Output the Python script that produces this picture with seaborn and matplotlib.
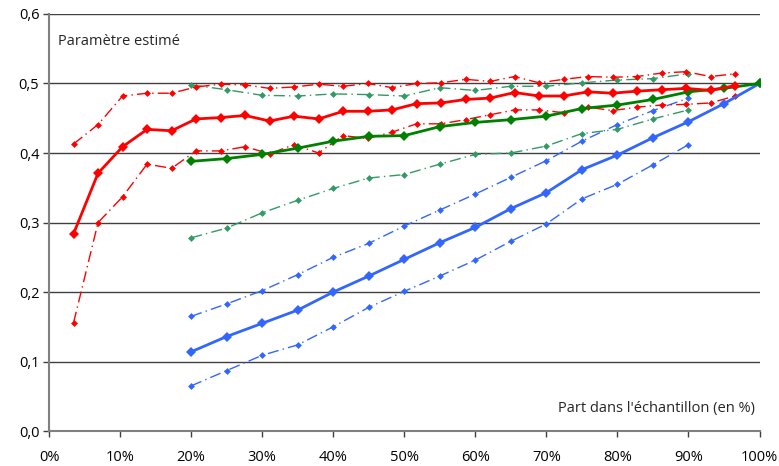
import numpy as np
import pandas as pd
import seaborn as sns
import matplotlib.pyplot as plt
from matplotlib.ticker import FuncFormatter

# Abscisses (part dans l'échantillon, en %)
x_rouge = [100 * k / 29 for k in range(1, 29)]
x_vert = list(range(20, 101, 5))
x_vert_ic = list(range(20, 91, 5))

# Série rouge
rouge = [0.284, 0.371, 0.409, 0.434, 0.432, 0.449, 0.451, 0.454, 0.446, 0.453,
         0.449, 0.460, 0.460, 0.462, 0.471, 0.472, 0.477, 0.479, 0.487, 0.482,
         0.482, 0.488, 0.486, 0.489, 0.491, 0.493, 0.490, 0.497]
rouge_haut = [0.413, 0.441, 0.482, 0.486, 0.486, 0.495, 0.499, 0.498, 0.493, 0.495,
              0.499, 0.496, 0.500, 0.494, 0.500, 0.501, 0.506, 0.503, 0.510, 0.501,
              0.506, 0.510, 0.509, 0.510, 0.515, 0.517, 0.510, 0.514]
rouge_bas = [0.156, 0.300, 0.337, 0.384, 0.378, 0.403, 0.403, 0.409, 0.399, 0.412,
             0.400, 0.425, 0.421, 0.430, 0.442, 0.442, 0.448, 0.455, 0.462, 0.462,
             0.458, 0.466, 0.461, 0.466, 0.469, 0.470, 0.472, 0.482]

# Série verte
vert = [0.388, 0.392, 0.398, 0.407, 0.417, 0.424, 0.425, 0.438, 0.444, 0.448,
        0.453, 0.464, 0.469, 0.477, 0.488, 0.493, 0.500]
vert_haut = [0.498, 0.491, 0.483, 0.482, 0.485, 0.484, 0.482, 0.494, 0.490, 0.496,
             0.496, 0.501, 0.505, 0.507, 0.514]
vert_bas = [0.278, 0.292, 0.314, 0.332, 0.349, 0.364, 0.369, 0.384, 0.398, 0.400,
            0.410, 0.428, 0.434, 0.449, 0.462]

# Série bleue
bleu = [0.114, 0.136, 0.155, 0.174, 0.200, 0.223, 0.247, 0.271, 0.293, 0.320,
        0.343, 0.376, 0.397, 0.422, 0.445, 0.471, 0.500]
bleu_haut = [0.165, 0.183, 0.202, 0.225, 0.250, 0.270, 0.295, 0.318, 0.341, 0.365,
             0.389, 0.417, 0.441, 0.461, 0.479]
bleu_bas = [0.065, 0.087, 0.109, 0.124, 0.150, 0.178, 0.201, 0.223, 0.246, 0.273,
            0.298, 0.334, 0.355, 0.383, 0.412]

sns.set_theme(style="white")
plt.rcParams['font.family'] = ['Open Sans', 'DejaVu Sans']

fig, ax = plt.subplots(figsize=(7.79, 4.66), dpi=100)
fig.subplots_adjust(left=0.063, right=0.975, top=0.97, bottom=0.075)

# Grille horizontale
for g in np.arange(0.1, 0.61, 0.1):
    ax.axhline(g, color="#404040", lw=1, zorder=0)

tiret = (8, 3, 1, 3)
series = [
    (x_vert_ic, bleu_haut, "#3366FF", False),
    (x_vert_ic, bleu_bas, "#3366FF", False),
    (x_vert_ic, vert_haut, "#339966", False),
    (x_vert_ic, vert_bas, "#339966", False),
    (x_rouge, rouge_haut, "#FF0000", False),
    (x_rouge, rouge_bas, "#FF0000", False),
    (x_vert, bleu, "#3366FF", True),
    (x_vert, vert, "#008000", True),
    (x_rouge, rouge, "#FF0000", True),
]
for xs, ys, col, plein in series:
    if plein:
        sns.lineplot(x=xs, y=ys, ax=ax, color=col, lw=2, marker="D",
                     markersize=5.5, markeredgewidth=0, zorder=3)
    else:
        sns.lineplot(x=xs, y=ys, ax=ax, color=col, lw=1, marker="D",
                     markersize=3.5, markeredgewidth=0, dashes=False,
                     linestyle=(0, tiret), zorder=2)

ax.set_xlim(0, 100)
ax.set_ylim(0, 0.6)
ax.set_xticks(range(0, 101, 10))
ax.set_yticks(np.arange(0, 0.61, 0.1))
ax.xaxis.set_major_formatter(FuncFormatter(lambda v, p: f"{v:.0f}%"))
ax.yaxis.set_major_formatter(FuncFormatter(lambda v, p: f"{v:.1f}".replace(".", ",")))

for s in ["top", "right"]:
    ax.spines[s].set_visible(False)
for s in ["left", "bottom"]:
    ax.spines[s].set_color("#808080")
    ax.spines[s].set_linewidth(1.5)
ax.tick_params(axis="x", direction="out", length=4, width=1, color="#404040",
               pad=10, labelsize=10.5, labelcolor="black", bottom=True)
ax.tick_params(axis="y", direction="out", length=4, width=1, color="#404040",
               pad=3, labelsize=10.5, labelcolor="black", left=True)

ax.text(0.012, 0.935, "Paramètre estimé", transform=ax.transAxes,
        fontsize=10.5, ha="left", va="center")
ax.text(0.993, 0.055, "Part dans l'échantillon (en %)", transform=ax.transAxes,
        fontsize=10.5, ha="right", va="center")
ax.set_xlabel("")
ax.set_ylabel("")

fig.savefig("out.png", dpi=100)
